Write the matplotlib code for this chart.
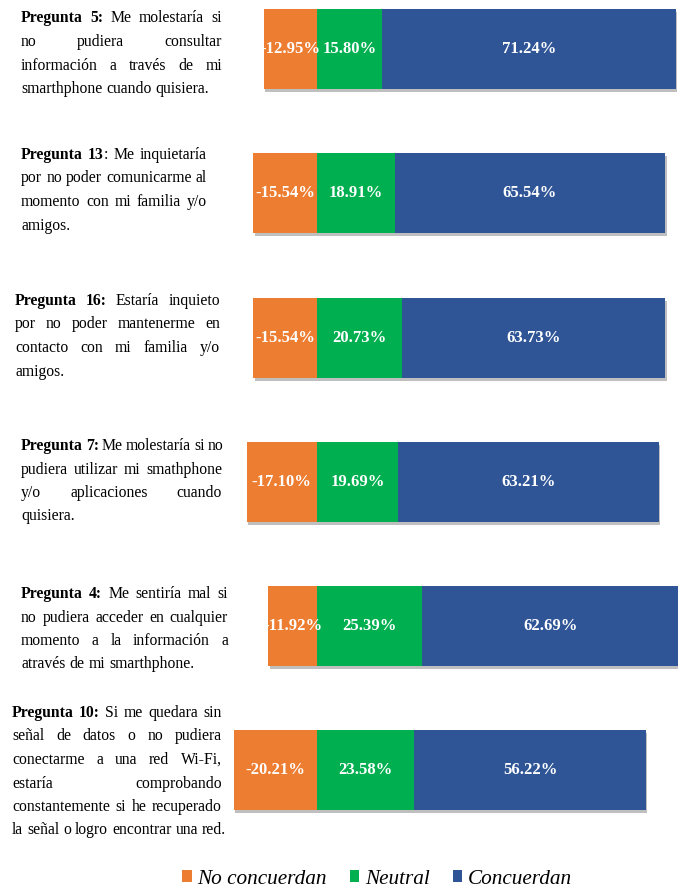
import matplotlib
matplotlib.use('Agg')
import matplotlib.pyplot as plt
import matplotlib.transforms as mtransforms
import matplotlib.patheffects as pe
from matplotlib.patches import Patch
from matplotlib.font_manager import FontProperties

# data
preguntas = ['Pregunta 5', 'Pregunta 13', 'Pregunta 16', 'Pregunta 7', 'Pregunta 4', 'Pregunta 10']
no_concuerdan = [12.95, 15.54, 15.54, 17.10, 11.92, 20.21]
neutral = [15.80, 18.91, 20.73, 19.69, 25.39, 23.58]
concuerdan = [71.24, 65.54, 63.73, 63.21, 62.69, 56.22]
series_names = ['No concuerdan', 'Neutral', 'Concuerdan']

# question texts, one entry per line; **...** marks bold
textos = [
    ['**Pregunta 5:** Me molestaría si', 'no pudiera consultar',
     'información a través de mi', 'smarthphone cuando quisiera.'],
    ['**Pregunta 13**: Me inquietaría', 'por no poder comunicarme al',
     'momento con mi familia y/o', 'amigos.'],
    ['**Pregunta 16:** Estaría inquieto', 'por no poder mantenerme en',
     'contacto con mi familia y/o', 'amigos.'],
    ['**Pregunta 7:** Me molestaría si no', 'pudiera utilizar mi smathphone',
     'y/o aplicaciones cuando', 'quisiera.'],
    ['**Pregunta 4:** Me sentiría mal si', 'no pudiera acceder en cualquier',
     'momento a la información a', 'através de mi smarthphone.'],
    ['**Pregunta 10:** Si me quedara sin', 'señal de datos o no pudiera',
     'conectarme a una red Wi-Fi,', 'estaría comprobando',
     'constantemente si he recuperado', 'la señal o logro encontrar una red.'],
]

# layout (pixels, measured from top-left)
W, H = 678, 892
zero_px = 317
px_per_pct = 4.12
bar_centers = [49, 193, 338, 482, 626, 770]
bar_height = 80
text_left = [21, 21, 15, 21, 21, 12]
text_right = [222, 207, 220, 222, 228, 222]
text_top = [17.5, 154, 300, 445, 593, 712]
line_step = 23.5

colors = ['#ED7D31', '#00B050', '#2F5597']
serif = 'Liberation Serif'

fig = plt.figure(figsize=(W / 100, H / 100), dpi=100)
fig.patch.set_facecolor('white')
ax = fig.add_axes([0, 0, 1, 1])
ax.set_xlim(-zero_px / px_per_pct, (W - zero_px) / px_per_pct)
ax.set_ylim(H, 0)
ax.axis('off')

shadow = [pe.SimplePatchShadow(offset=(1.2, -2.5), shadow_rgbFace='0.5', alpha=0.5), pe.Normal()]

lefts = [[-n for n in no_concuerdan], [0] * len(neutral), neutral]
widths = [no_concuerdan, neutral, concuerdan]
for k in range(3):
    bars = ax.barh(bar_centers, widths[k], left=lefts[k], height=bar_height,
                   color=colors[k], label=series_names[k], zorder=2)
    for b in bars:
        b.set_path_effects(shadow)
    for i, b in enumerate(bars):
        v = widths[k][i]
        s = f'-{v:.2f}%' if k == 0 else f'{v:.2f}%'
        xc = lefts[k][i] + v / 2
        ax.text(xc, bar_centers[i], s, ha='center', va='center', color='white',
                fontsize=12, fontweight='bold', family=serif, zorder=3)

# justified question texts
trans = mtransforms.Affine2D().scale(1 / W, -1 / H).translate(0, 1) + fig.transFigure
renderer = fig.canvas.get_renderer()
fp_reg = FontProperties(family=serif, size=11.3)
fp_bold = FontProperties(family=serif, size=11.3, weight='bold')


def width_of(s, bold):
    w, h, d = renderer.get_text_width_height_descent(s, fp_bold if bold else fp_reg, ismath=False)
    return w


def parse(line):
    words, cur = [], []
    parts = line.split('**')
    for i, part in enumerate(parts):
        b = i % 2 == 1
        for j, p in enumerate(part.split(' ')):
            if j > 0 and cur:
                words.append(cur)
                cur = []
            if p:
                cur.append((p, b))
    if cur:
        words.append(cur)
    return words


space_w = width_of('a a', False) - width_of('aa', False)

for q, lines in enumerate(textos):
    for li, line in enumerate(lines):
        words = parse(line)
        ws = [sum(width_of(t, b) for t, b in wd) for wd in words]
        last = li == len(lines) - 1
        if last or len(words) == 1:
            gap = space_w
        else:
            gap = (text_right[q] - text_left[q] - sum(ws)) / (len(words) - 1)
            gap = max(gap, 3.0)
        x = text_left[q]
        y = text_top[q] + li * line_step + 5
        for wd, w in zip(words, ws):
            xx = x
            for t, b in wd:
                fig.text(xx, y, t, transform=trans, ha='left', va='baseline',
                         fontproperties=fp_bold if b else fp_reg, color='black')
                xx += width_of(t, b)
            x += w + gap

handles = [Patch(facecolor=c, edgecolor='none', label=n) for c, n in zip(colors, series_names)]
fig.legend(handles=handles, loc='center', bbox_to_anchor=(377 / W, 1 - 879 / H), ncol=3,
           frameon=False, handlelength=0.45, handleheight=0.45, handletextpad=0.25,
           columnspacing=1.1, prop=FontProperties(family=serif, style='italic', size=15.3))

fig.savefig('out.png', dpi=100, facecolor='white')
